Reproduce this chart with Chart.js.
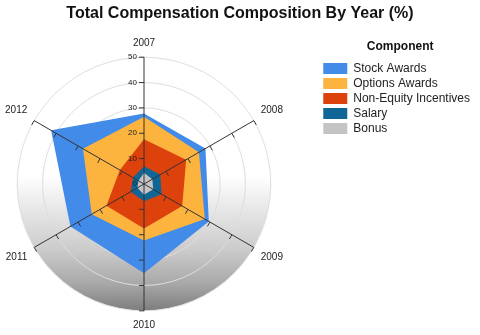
<!DOCTYPE html>
<html>
<head>
<meta charset="utf-8">
<script src="https://cdn.jsdelivr.net/npm/chart.js@4"></script>
<style>
html,body{margin:0;padding:0;background:#fff}
#chart{display:block}
</style>
</head>
<body>
<canvas id="chart" width="480" height="335"></canvas>
<script>
const years = ["2007","2008","2009","2010","2011","2012"];
const stockAwards = [27.8, 28, 29.5, 35.2, 33.5, 42.3];
const optionsAwards = [26.5, 25, 27.7, 22.3, 23.8, 27.8];
const nonEquity = [17.6, 19.2, 17.4, 17.5, 17.1, 11];
const salary = [7, 7.4, 8, 6.8, 6.1, 5];
const bonus = [4.4, 3.8, 4.2, 4.2, 3, 2.5];
const tickValues = [0, 10, 20, 30, 40, 50];

const seriesNames = ["Stock Awards","Options Awards","Non-Equity Incentives","Salary","Bonus"];
const seriesColors = ["#428BE9","#FDB43F","#DD410C","#106696","#C4C4C4"];
const seriesData = [stockAwards, optionsAwards, nonEquity, salary, bonus];

const family = "'Liberation Sans', Arial, sans-serif";

// fondo gris degradado dentro del círculo
const backdrop = {
  id: "backdrop",
  beforeDraw(chart) {
    const r = chart.scales.r, ctx = chart.ctx;
    const cx = r.xCenter, cy = r.yCenter, R = r.drawingArea;
    const g = ctx.createLinearGradient(0, cy - 8, 0, cy + R);
    g.addColorStop(0, "#ffffff");
    g.addColorStop(0.28, "#e4e4e4");
    g.addColorStop(0.55, "#cbcbcb");
    g.addColorStop(0.8, "#a8a8a8");
    g.addColorStop(1, "#7d7d7d");
    ctx.save();
    ctx.beginPath();
    ctx.arc(cx, cy, R, 0, Math.PI * 2);
    ctx.fillStyle = g;
    ctx.fill();
    ctx.restore();
  }
};

// ejes con marcas encima de las áreas
const axes = {
  id: "axes",
  afterDatasetsDraw(chart) {
    const r = chart.scales.r, ctx = chart.ctx;
    ctx.save();
    ctx.strokeStyle = "#333";
    ctx.lineWidth = 1;
    years.forEach((y, i) => {
      const end = r.getPointPositionForValue(i, 50);
      ctx.beginPath();
      ctx.moveTo(r.xCenter, r.yCenter);
      ctx.lineTo(end.x, end.y);
      ctx.stroke();
      const a = r.getIndexAngle(i) - Math.PI / 2;
      const dx = Math.cos(a), dy = Math.sin(a);
      let nx = -dy, ny = dx;
      if (Math.abs(dx) < 0.01) { if (nx > 0) { nx = -nx; ny = -ny; } }
      else if (ny < 0) { nx = -nx; ny = -ny; }
      tickValues.slice(1).forEach(v => {
        const p = r.getPointPositionForValue(i, v);
        ctx.beginPath();
        ctx.moveTo(p.x, p.y);
        ctx.lineTo(p.x + nx * 5, p.y + ny * 5);
        ctx.stroke();
      });
    });
    ctx.fillStyle = "#222";
    ctx.font = "8px " + family;
    ctx.textAlign = "right";
    ctx.textBaseline = "middle";
    tickValues.forEach(v => {
      const p = r.getPointPositionForValue(0, v);
      ctx.fillText(String(v), p.x - 7, p.y);
    });
    ctx.restore();
  }
};

// separa la leyenda del área polar
const spacer = {
  id: "spacer",
  beforeInit(chart) {
    Chart.layouts.addBox(chart, {
      position: "right", weight: 5, fullSize: false, options: {display: false},
      left: 0, top: 0, right: 0, bottom: 0, width: 0, height: 0,
      update(maxW, maxH) { this.width = 31; this.height = maxH; },
      isHorizontal() { return false; },
      draw() {}
    });
  }
};

new Chart(document.getElementById("chart"), {
  type: "radar",
  data: {
    labels: years,
    datasets: seriesNames.map((name, i) => ({
      label: name,
      data: seriesData[i],
      backgroundColor: seriesColors[i],
      borderWidth: 0,
      pointRadius: 0,
      fill: true,
      order: seriesNames.length - i
    }))
  },
  options: {
    responsive: false,
    animation: false,
    devicePixelRatio: 1,
    layout: {padding: {right: 0, bottom: 3}},
    scales: {
      r: {
        min: 0, max: 50,
        ticks: {display: false, stepSize: 10},
        grid: {circular: true, color: "#dedede"},
        angleLines: {display: false},
        pointLabels: {font: {family, size: 10}, color: "#222", padding: 8}
      }
    },
    plugins: {
      title: {
        display: true,
        text: "Total Compensation Composition By Year (%)",
        font: {family, size: 16, weight: "bold"},
        color: "#111",
        padding: {top: 4, bottom: 14}
      },
      legend: {
        position: "right",
        align: "start",
        fullSize: false,
        title: {display: true, text: "Component", font: {family, size: 12, weight: "bold"}, color: "#111", padding: {top: 3, bottom: 5}},
        labels: {
          boxWidth: 24, boxHeight: 11, font: {family, size: 12}, color: "#222", padding: 3,
          sort: (a, b) => a.datasetIndex - b.datasetIndex
        }
      },
      tooltip: {enabled: false}
    }
  },
  plugins: [backdrop, axes, spacer]
});
</script>
</body>
</html>
